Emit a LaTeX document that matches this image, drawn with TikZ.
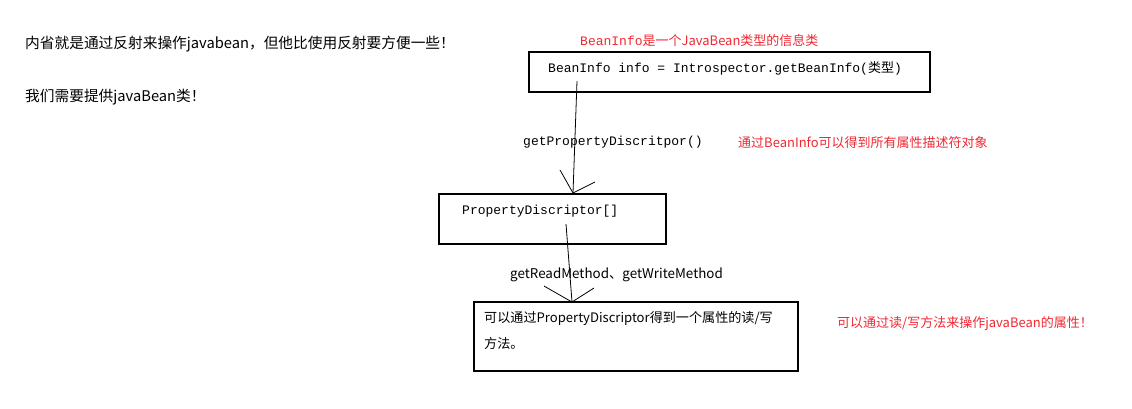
\documentclass[tikz,border=0pt]{standalone}
\usepackage{fontspec}
\usepackage{tikz}
\setmainfont{Noto Sans CJK SC}
\newfontfamily\monofont{Liberation Mono}
\definecolor{notered}{RGB}{240,40,50}

\begin{document}
\begin{tikzpicture}[x=1pt, y=-1pt,
        box/.style={draw, line width=1.1pt, inner sep=0pt},
        code/.style={anchor=west, inner sep=0pt, font=\monofont\fontsize{13}{15}\selectfont},
        plain/.style={anchor=west, inner sep=0pt, font=\fontsize{13}{15}\selectfont},
        remark/.style={plain, text=notered},
        lead/.style={plain, font=\fontsize{14.7}{17}\selectfont},
        conn/.style={line width=0.8pt}]
        \useasboundingbox (0,0) rectangle (1132,408);

        \node[lead] (intro) at (25,44) {内省就是通过反射来操作javabean，但他比使用反射要方便一些！};
        \node[lead] (need) at (25,97) {我们需要提供javaBean类！};

        \node[box, minimum width=401pt, minimum height=40pt] (info) at (729.5,72) {};
        \node[box, minimum width=227pt, minimum height=50pt] (pd) at (552.5,219) {};
        \node[box, minimum width=324pt, minimum height=69pt] (rw) at (636,336.5) {};

        \node[remark] (infonote) at (580,41) {{\monofont BeanInfo}是一个JavaBean类型的信息类};
        \node[code] (infocode) at (548,68) {BeanInfo info = Introspector.getBeanInfo({\rmfamily 类型})};
        \node[code] (getpd) at (523,142) {getPropertyDiscritpor()};
        \node[remark] (pdnote) at (738,143) {通过BeanInfo可以得到所有属性描述符对象};
        \node[code] (pdcode) at (462,211) {PropertyDiscriptor[]};
        \node[plain, font=\fontsize{13.4}{15}\selectfont] (getrw) at (510,275) {getReadMethod、getWriteMethod};
        \node[plain, align=left, anchor=north west, font=\fontsize{13.1}{26}\selectfont] (rwtext) at (484,311) {可以通过PropertyDiscriptor得到一个属性的读/写\\方法。};
        \node[remark] (rwnote) at (837,324) {可以通过读/写方法来操作javaBean的属性！};

        \coordinate (a1) at (577,81);
        \coordinate (b1) at (573,193);
        \coordinate (a2) at (566,224);
        \coordinate (b2) at (572,302);

        \draw[conn] (a1) -- (b1);
        \draw[conn] (b1) -- ++(-13,-23);
        \draw[conn] (b1) -- ++(22,-11);
        \draw[conn] (a2) -- (b2);
        \draw[conn] (b2) -- ++(-28,-16);
        \draw[conn] (b2) -- ++(22,-14);
    \end{tikzpicture}
\end{document}
